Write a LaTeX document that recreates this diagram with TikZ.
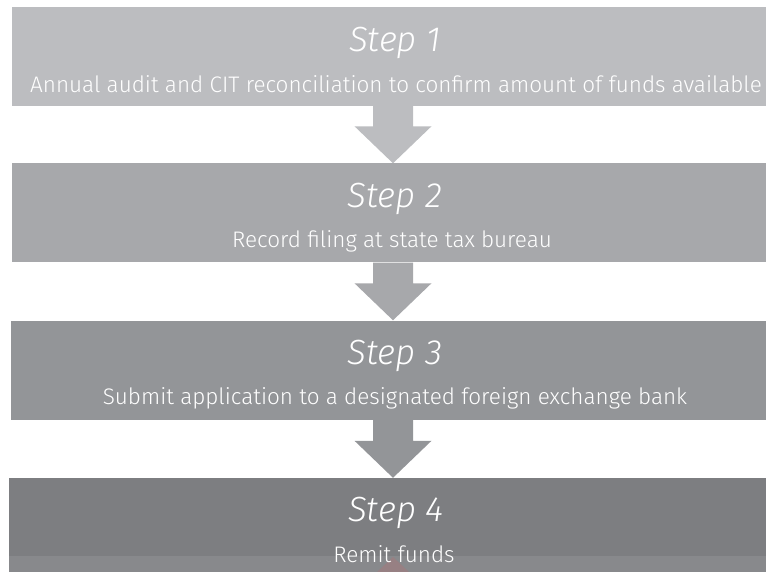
\documentclass[tikz,border=0pt]{standalone}
\usepackage{fontspec}
\setmainfont{Fira Sans}[UprightFont={* Light}, ItalicFont={* Light Italic}]
\usetikzlibrary{positioning,calc}
\definecolor{stepA}{HTML}{BCBDC0}
\definecolor{stepB}{HTML}{A7A8AB}
\definecolor{stepC}{HTML}{939598}
\definecolor{stepD}{HTML}{7D7E81}
\definecolor{stepE}{HTML}{88898C}
\definecolor{redtip}{HTML}{978083}
\tikzset{
	band/.style={rectangle, inner sep=0pt, minimum height=99pt},
	title/.style={text=white, font=\fontsize{35}{40}\selectfont\itshape},
	desc/.style={text=white, font=\fontsize{22.5}{26}\selectfont}
}
\begin{document}
\begin{tikzpicture}[x=1pt, y=-1pt, line join=round]
	\useasboundingbox (0,0) rectangle (766,572);
	% bands
	\node[band, fill=stepA, minimum width=762pt] (s1) at (393,56.5) {};
	\node[band, fill=stepB, minimum width=762pt] (s2) at (393,213) {};
	\node[band, fill=stepC, minimum width=764pt] (s3) at (393,370) {};
	\node[band, fill=stepD, minimum width=768pt, minimum height=96pt] (s4) at (393,526) {};
	\fill[stepE] (9,556) rectangle (777,572);
	\fill[redtip] (393,557) -- (410,573) -- (376,573) -- cycle;
	% arrows
	\foreach \a/\b/\c in {s1/s2/stepA, s2/s3/stepB, s3/s4/stepC}
	\fill[\c] ($(\a.south)+(-20,0)$) -- ($(\a.south)+(20,0)$) -- ($(\b.north)+(20,-37)$) -- ($(\b.north)+(38.5,-37)$)
	-- (\b.north) -- ($(\b.north)+(-38.5,-37)$) -- ($(\b.north)+(-20,-37)$) -- cycle;
	% texts
	\node[title] (t1) at (395,43) {Step 1};
	\node[desc] (d1) at (396,84) {Annual audit and CIT reconciliation to confirm amount of funds available};
	\node[title] (t2) at (395,199) {Step 2};
	\node[desc] (d2) at (392,241) {Record filing at state tax bureau};
	\node[title] (t3) at (395,356) {Step 3};
	\node[desc] (d3) at (395,398) {Submit application to a designated foreign exchange bank};
	\node[title] (t4) at (396,513) {Step 4};
	\node[desc] (d4) at (394,554) {Remit funds};
\end{tikzpicture}
\end{document}
